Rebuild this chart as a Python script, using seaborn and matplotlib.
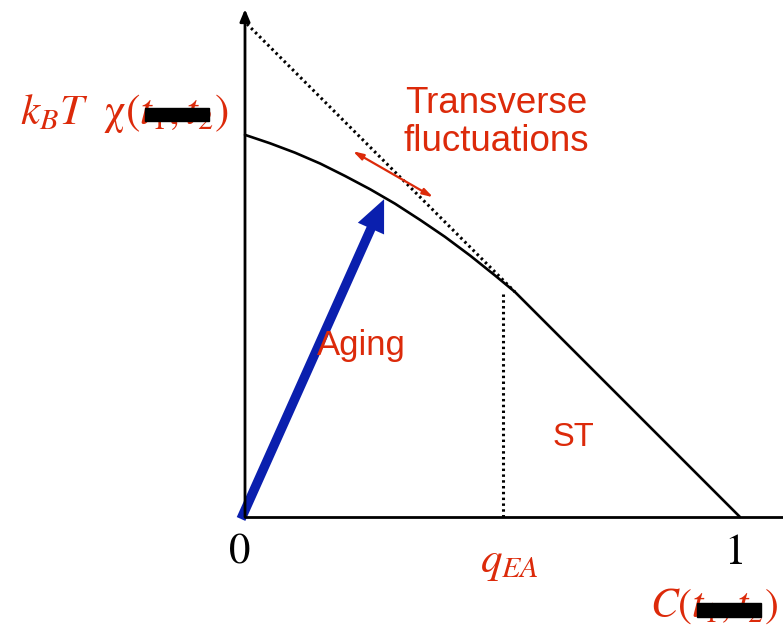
import matplotlib
matplotlib.use("Agg")
import matplotlib.pyplot as plt
import seaborn as sns
import pandas as pd
from matplotlib.patches import Rectangle

# Curve: k_B T chi vs C
C_vals = [0.0, 0.0505, 0.101, 0.152, 0.202, 0.253, 0.303, 0.354, 0.404,
          0.455, 0.505, 0.545, 1.0]
chi_vals = [0.772, 0.755, 0.736, 0.714, 0.689, 0.662, 0.633, 0.600, 0.566,
            0.528, 0.488, 0.455, 0.0]

# FDT line (dotted extension) y = 1 - C
fdt_C = [0.004, 0.545]
fdt_chi = [0.996, 0.455]

q_EA = 0.521
q_EA_top = 0.45

RED = "#dc2a0a"
BLUE = "#0a1fae"

sns.set_theme(style="white")
plt.rcParams["mathtext.fontset"] = "stix"
plt.rcParams["font.family"] = ["Liberation Sans", "DejaVu Sans"]

fig = plt.figure(figsize=(7.83, 6.29), dpi=100)
ax = fig.add_axes([0, 0, 1, 1])
ax.set_xlim(-245 / 495, (783 - 245) / 495)
ax.set_ylim((517 - 629) / 495, 517 / 495)
ax.axis("off")

df = pd.DataFrame({"C": C_vals, "chi": chi_vals})
sns.lineplot(data=df, x="C", y="chi", color="black", lw=1.9, sort=False, ax=ax)
ax.plot(fdt_C, fdt_chi, color="black", lw=2.2, linestyle=(0, (0.8, 1.1)))
ax.plot([q_EA, q_EA], [0, q_EA_top], color="black", lw=2.2, linestyle=(0, (0.8, 1.1)))

# axes
ax.plot([0, 1.09], [0, 0], color="black", lw=2)
ax.annotate("", xy=(0, 1.026), xytext=(0, 0),
            arrowprops=dict(arrowstyle="-|>,head_length=0.6,head_width=0.25",
                            color="black", lw=2, shrinkA=0, shrinkB=0))

# aging arrow
ax.arrow(-0.008, -0.004, 0.289, 0.646, width=0.019, head_width=0.058,
         head_length=0.065, length_includes_head=True, color=BLUE, lw=0)

# transverse double arrow
ax.annotate("", xy=(0.218, 0.739), xytext=(0.380, 0.646),
            arrowprops=dict(arrowstyle="<|-|>,head_length=0.5,head_width=0.15",
                            color=RED, lw=1.6, shrinkA=0, shrinkB=0))

ax.text(-0.455, 0.815, r"$k_B T\ \ \mathrm{χ}(t_1,t_2)$", color=RED, fontsize=31,
        ha="left", va="center")
ax.add_patch(Rectangle(((145 - 245) / 495, (517 - 121) / 495), 64 / 495, 13 / 495,
                       color="black", zorder=5))

ax.text(-0.010, -0.074, "0", color="black", fontsize=31, ha="center", va="center",
        family="STIXGeneral")
ax.text(0.99, -0.074, "1", color="black", fontsize=31, ha="center", va="center",
        family="STIXGeneral")
ax.text(0.535, -0.093, r"$q_{EA}$", color=RED, fontsize=31, ha="center", va="center")
ax.text(1.077, -0.18, r"$C(t_1,t_2)$", color=RED, fontsize=30, ha="right", va="center")
ax.add_patch(Rectangle(((697 - 245) / 495, (517 - 617) / 495), 64 / 495, 14 / 495,
                       color="black", zorder=5))

ax.text(0.507, 0.797, "Transverse\nfluctuations", color=RED, fontsize=26.5,
        ha="center", va="center", linespacing=1.08)
ax.text(0.236, 0.347, "Aging", color=RED, fontsize=25, ha="center", va="center")
ax.text(0.663, 0.160, "ST", color=RED, fontsize=23.5, ha="center", va="center")

fig.savefig("out.png", dpi=100)
